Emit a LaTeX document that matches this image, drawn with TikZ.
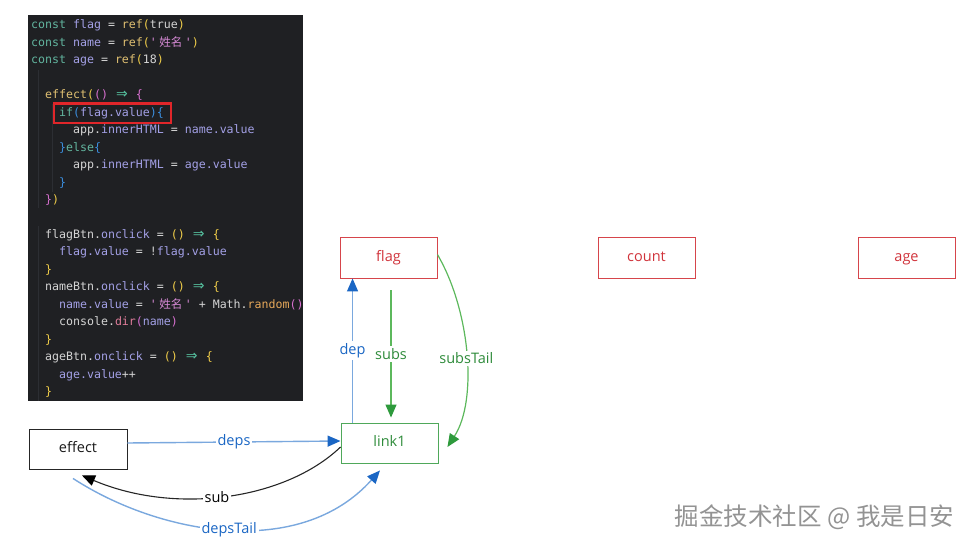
\documentclass[tikz,border=0pt]{standalone}
\usepackage{fontspec}
\setmainfont{Open Sans}
\setmonofont{DejaVu Sans Mono}
\newfontfamily\cjk{Noto Sans CJK SC}
\newfontfamily\djv{DejaVu Sans}
\usetikzlibrary{arrows.meta,calc}
\definecolor{cdbg}{HTML}{1F2023}
\definecolor{cdguide}{HTML}{2C2E33}
\definecolor{cdwht}{HTML}{D4D4D4}
\definecolor{cdkw}{HTML}{62B59F}
\definecolor{cdvar}{HTML}{A3A0E6}
\definecolor{cdfn}{HTML}{E0C072}
\definecolor{cdyel}{HTML}{F2CF4A}
\definecolor{cdpink}{HTML}{D870D0}
\definecolor{cdblue}{HTML}{3B8FE0}
\definecolor{cdstr}{HTML}{D78AD6}
\definecolor{cdarr}{HTML}{56C2A0}
\definecolor{cdorg}{HTML}{E6A85A}
\definecolor{cddir}{HTML}{E07D9A}
\definecolor{hlred}{HTML}{E0262A}
\definecolor{nodered}{HTML}{D6454B}
\definecolor{txtred}{HTML}{D0333B}
\definecolor{nodegreen}{HTML}{4FA85A}
\definecolor{txtgreen}{HTML}{2E8B3A}
\definecolor{linegreen}{HTML}{5CB85C}
\definecolor{tipgreen}{HTML}{2E9A3C}
\definecolor{txtblue}{HTML}{1A66C4}
\definecolor{lineblue}{HTML}{7AA8DE}
\definecolor{tipblue}{HTML}{1A66C4}
\definecolor{wmgray}{HTML}{939393}
\newlength\cdcw
\setlength\cdcw{6.983pt}
\newcommand{\cdK}[1]{\textcolor{cdkw}{#1}}
\newcommand{\cdV}[1]{\textcolor{cdvar}{#1}}
\newcommand{\cdF}[1]{\textcolor{cdfn}{#1}}
\newcommand{\cdY}[1]{\textcolor{cdyel}{#1}}
\newcommand{\cdP}[1]{\textcolor{cdpink}{#1}}
\newcommand{\cdB}[1]{\textcolor{cdblue}{#1}}
\newcommand{\cdS}[1]{\textcolor{cdstr}{#1}}
\newcommand{\cdR}[1]{\textcolor{cdorg}{#1}}
\newcommand{\cdD}[1]{\textcolor{cddir}{#1}}
\newcommand{\cdA}{\textcolor{cdarr}{\makebox[2\cdcw]{\djv\fontsize{14}{14}\selectfont ⇒}}}
\newcommand{\cdzh}[1]{\makebox[4\cdcw]{\cjk\fontsize{11.6}{14}\selectfont #1}}
\newcommand{\ind}[1]{\hspace*{#1\cdcw}}
\begin{document}
\begin{tikzpicture}[x=1pt,y=-1pt,
  codetext/.style={anchor=base west,inner sep=0pt,text=cdwht,
    font=\ttfamily\fontsize{11.6}{14}\selectfont},
  boxbase/.style={line width=0.9pt,minimum width=97pt,minimum height=41pt,
    inner sep=0pt,text height=11pt,text depth=3.5pt,font=\fontsize{14.5}{18}\selectfont},
  varbox/.style={boxbase,draw=nodered,text=txtred},
  linkbox/.style={boxbase,draw=nodegreen,text=txtgreen,minimum height=40pt},
  effbox/.style={boxbase,draw=black!85,text=black!90,minimum width=98pt,minimum height=40pt},
  lbl/.style={fill=white,inner sep=2pt,font=\fontsize{14.5}{18}\selectfont},
  bluearrow/.style={draw=lineblue,line width=1.4pt,-{Triangle[length=13pt,width=11pt,color=tipblue]}},
  greenarrow/.style={draw=linegreen,line width=1.2pt,-{Triangle[length=13pt,width=11pt,color=tipgreen]}},
  blackarrow/.style={draw=black!85,line width=1.1pt,-{Triangle[length=13pt,width=11pt,color=black]}}
]
\useasboundingbox (0,0) rectangle (976,548);
% code screenshot
\fill[cdbg] (28,15) rectangle (303,401);
\begin{scope}
\clip (28,15) rectangle (303,401);
\draw[cdguide,line width=1pt] (38,70) -- (38,208);
\draw[cdguide,line width=1pt] (52,104) -- (52,192);
\draw[cdguide,line width=1pt] (38,226) -- (38,401);
\node[codetext] (c1) at (31,29) {\cdK{const} \cdV{flag} = \cdF{ref}\cdY{(}true\cdY{)}};
\node[codetext] (c2) at (31,46.45) {\cdK{const} \cdV{name} = \cdF{ref}\cdY{(}\cdS{'\cdzh{姓名}'}\cdY{)}};
\node[codetext] (c3) at (31,63.9) {\cdK{const} \cdV{age} = \cdF{ref}\cdY{(}18\cdY{)}};
\node[codetext] (c5) at (31,98.8) {\ind{2}\cdF{effect}\cdY{(}\cdP{()} \cdA\ \cdP{\{}};
\node[codetext] (c6) at (31,116.25) {\ind{4}\cdK{if}\cdB{(}\cdV{flag.value}\cdB{)\{}};
\node[codetext] (c7) at (31,133.7) {\ind{6}app.\cdV{innerHTML} = \cdV{name.value}};
\node[codetext] (c8) at (31,151.15) {\ind{4}\cdB{\}}\cdK{else}\cdB{\{}};
\node[codetext] (c9) at (31,168.6) {\ind{6}app.\cdV{innerHTML} = \cdV{age.value}};
\node[codetext] (c10) at (31,186.05) {\ind{4}\cdB{\}}};
\node[codetext] (c11) at (31,203.5) {\ind{2}\cdP{\}}\cdY{)}};
\node[codetext] (c13) at (31,238.4) {\ind{2}flagBtn.\cdV{onclick} = \cdY{()} \cdA\ \cdY{\{}};
\node[codetext] (c14) at (31,255.85) {\ind{4}\cdV{flag.value} = !\cdV{flag.value}};
\node[codetext] (c15) at (31,273.3) {\ind{2}\cdY{\}}};
\node[codetext] (c16) at (31,290.75) {\ind{2}nameBtn.\cdV{onclick} = \cdY{()} \cdA\ \cdY{\{}};
\node[codetext] (c17) at (31,308.2) {\ind{4}\cdV{name.value} = \cdS{'\cdzh{姓名}'} + Math.\cdR{random}\cdP{()}};
\node[codetext] (c18) at (31,325.65) {\ind{4}console.\cdD{dir}\cdP{(}\cdV{name}\cdP{)}};
\node[codetext] (c19) at (31,343.1) {\ind{2}\cdY{\}}};
\node[codetext] (c20) at (31,360.55) {\ind{2}ageBtn.\cdV{onclick} = \cdY{()} \cdA\ \cdY{\{}};
\node[codetext] (c21) at (31,378) {\ind{4}\cdV{age.value}++};
\node[codetext] (c22) at (31,395.45) {\ind{2}\cdY{\}}};
\end{scope}
\draw[hlred,line width=2.5pt] (54,103.5) rectangle (171,123);
% diagram nodes
\node[varbox] (flag) at (388.5,257.5) {flag};
\node[varbox] (count) at (646.5,257.5) {count};
\node[varbox] (age) at (906.5,257.5) {age};
\node[linkbox] (link1) at (389.5,443) {link1};
\node[effbox] (effect) at (78,449) {effect};
\coordinate (subsStart) at ($(flag.south)+(2.5,12)$);
% connectors
\draw[bluearrow] ($(link1.north west)+(12,0)$) -- node[lbl,text=txtblue] {dep} ($(flag.south west)+(13,0)$);
\draw[greenarrow] (subsStart) -- node[lbl,text=txtgreen] {subs} ($(link1.north)+(1.5,-5)$);
\draw[greenarrow] ($(flag.north east)+(0,18)$) .. controls (470,310) and (478,400) .. node[lbl,text=txtgreen,pos=0.52] {subsTail} ($(link1.east)+(9,4)$);
\draw[bluearrow] ($(effect.east)+(0,-6)$) -- node[lbl,text=txtblue] {deps} ($(link1.west)+(0,-2)$);
\draw[blackarrow] ($(link1.west)+(0,4)$) .. controls (285,500) and (175,515) .. node[lbl,text=black,pos=0.53] {sub} ($(effect.south)+(4,6)$);
\draw[bluearrow] ($(effect.south)+(-5,9)$) .. controls (160,535) and (300,560) .. node[lbl,text=txtblue,pos=0.5] {depsTail} ($(link1.south)+(-9.5,7)$);
% watermark
\node[text=wmgray,font=\cjk\fontsize{24.5}{27}\selectfont,inner sep=0pt] (wm) at (814.5,517) {掘金技术社区 @ 我是日安};
\end{tikzpicture}
\end{document}
